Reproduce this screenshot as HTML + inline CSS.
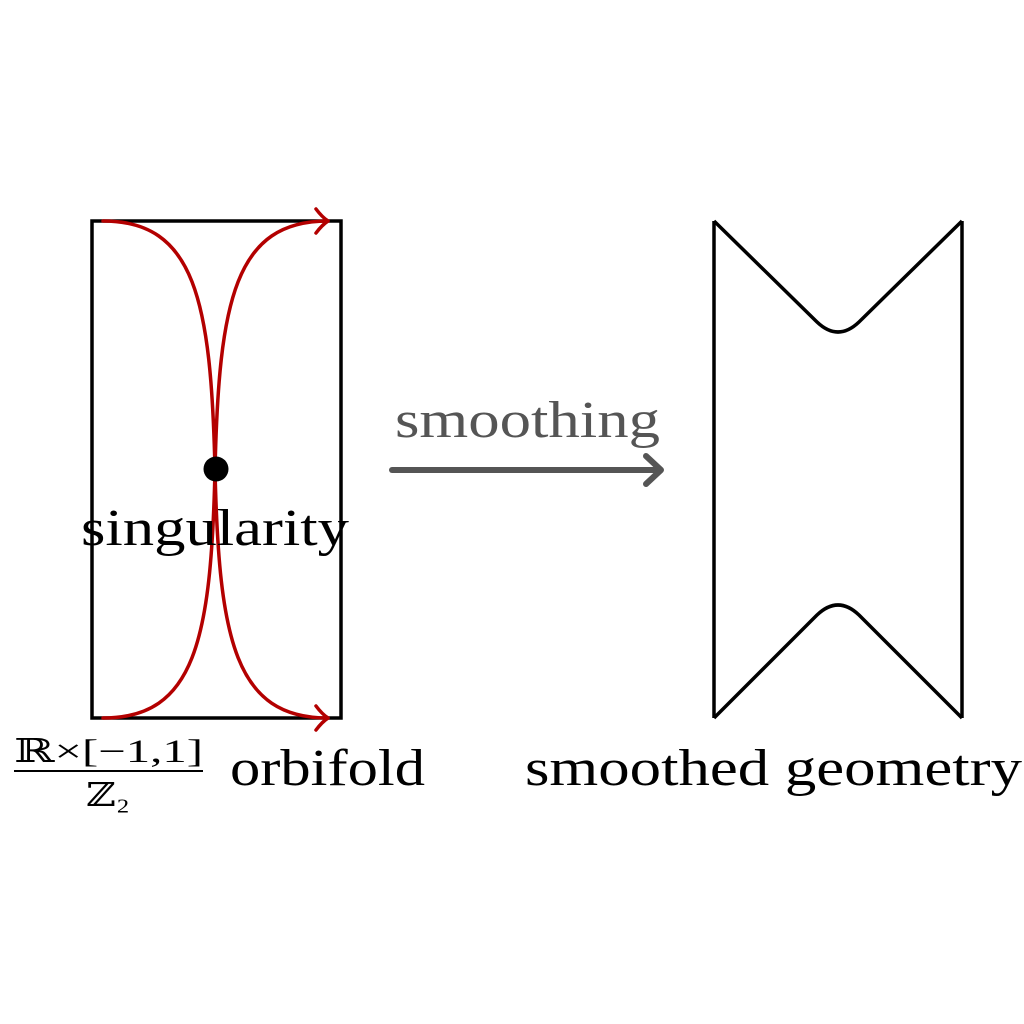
<!DOCTYPE html>
<html><head><meta charset="utf-8"><style>
html,body{margin:0;padding:0;background:#fff;}
svg{display:block;}
text{font-family:"Liberation Serif","DejaVu Serif",serif;}
</style></head><body>
<svg width="1024" height="1024" viewBox="0 0 1024 1024">
<rect x="92" y="221" width="249" height="497" fill="none" stroke="#000" stroke-width="3.5"/>
<g fill="none" stroke="#b30000" stroke-width="3.5" stroke-linecap="round" stroke-linejoin="round">
<path d="M103,221 C195,221 211,300 215,470 C219,640 235,718 328,718"/>
<path d="M103,718 C195,718 211,640 215,470 C219,300 235,221 328,221"/>
<path d="M316,209 Q322,217 328,221 Q322,225 316,233"/>
<path d="M316,706 Q322,714 328,718 Q322,722 316,730"/>
</g>
<circle cx="216" cy="469" r="12.5" fill="#000"/>
<text x="81" y="545" font-size="52" textLength="268" lengthAdjust="spacingAndGlyphs">singularity</text>
<text x="395" y="437" font-size="52" fill="#555" textLength="265" lengthAdjust="spacingAndGlyphs">smoothing</text>
<g stroke="#555" stroke-width="6" fill="none" stroke-linecap="round" stroke-linejoin="round">
<line x1="392" y1="470" x2="660" y2="470"/>
<path d="M646,456 L661,470 L646,484"/>
</g>
<g fill="none" stroke="#000" stroke-width="3.5" stroke-linejoin="round">
<line x1="714" y1="221" x2="714" y2="718"/>
<line x1="962" y1="221" x2="962" y2="718"/>
<path d="M714,221 L817,322 Q838,342 859,322 L962,221"/>
<path d="M714,718 L817,615 Q838,595 859,615 L962,718"/>
</g>
<text x="525" y="785" font-size="52" textLength="497" lengthAdjust="spacingAndGlyphs">smoothed geometry</text>
<text x="230" y="785" font-size="52" textLength="195" lengthAdjust="spacingAndGlyphs">orbifold</text>
<g>
<text x="14" y="762" font-size="33" textLength="189" lengthAdjust="spacingAndGlyphs" font-family="DejaVu Serif, serif">ℝ×[−1,1]</text>
<line x1="14" y1="771" x2="203" y2="771" stroke="#000" stroke-width="2"/>
<text x="86" y="806" font-size="33" textLength="44" lengthAdjust="spacingAndGlyphs" font-family="DejaVu Serif, serif">ℤ₂</text>
</g>
</svg>
</body></html>
